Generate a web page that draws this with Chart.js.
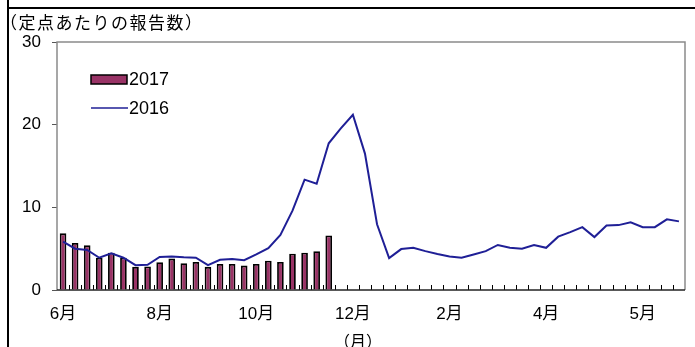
<!DOCTYPE html>
<html>
<head>
<meta charset="utf-8">
<title>定点あたりの報告数</title>
<script src="https://cdn.jsdelivr.net/npm/chart.js"></script>
<style>
  html, body { margin: 0; padding: 0; background: #fff; }
  #wrap { position: relative; width: 695px; height: 347px; overflow: hidden; }
  #wrap canvas { position: absolute; left: 0; top: 0; }
  .rule-v { position: absolute; left: 7px; top: 0; width: 2px; height: 347px; background: #000; }
  .rule-h { position: absolute; left: 7px; top: 7px; width: 688px; height: 2px; background: #000; }
</style>
</head>
<body>
<div id="wrap">
  <canvas id="chart" width="695" height="347"></canvas>
  <div class="rule-v"></div>
  <div class="rule-h"></div>
</div>
<script>
// month tick labels, one every 8 weeks
const monthLabels = ['6月', '8月', '10月', '12月', '2月', '4月', '5月'];
const weekCount = 52;
const yTicks = [0, 10, 20, 30];

// 2017 (bars) – weekly reports per sentinel site
const values2017 = [6.85, 5.7, 5.4, 3.9, 4.5, 3.9, 2.8, 2.85, 3.35, 3.8, 3.25, 3.4,
  2.8, 3.15, 3.15, 2.95, 3.15, 3.55, 3.4, 4.4, 4.5, 4.7, 6.6];

// 2016 (line)
const values2016 = [5.85, 5.0, 4.85, 3.9, 4.45, 3.9, 3.0, 3.05, 4.0, 4.05, 3.95, 3.9,
  3.0, 3.65, 3.75, 3.6, 4.3, 5.05, 6.65, 9.6, 13.35, 12.85, 17.75, 19.55,
  21.2, 16.5, 7.95, 3.85, 4.95, 5.1, 4.7, 4.35, 4.05, 3.9, 4.3, 4.7,
  5.45, 5.1, 5.0, 5.45, 5.1, 6.45, 7.0, 7.6, 6.4, 7.8, 7.85, 8.2,
  7.6, 7.6, 8.55, 8.3];

const categories = Array.from({ length: weekCount }, (_, i) => i % 8 === 0 ? monthLabels[i / 8] : '');

const numFont = '"Liberation Sans", Arial, "Noto Sans CJK JP", sans-serif';
const jpFont = '"Noto Sans CJK JP", sans-serif';

const framePlugin = {
  id: 'frame',
  beforeDatasetsDraw(chart) {
    const { ctx, chartArea: a, scales: { x } } = chart;
    ctx.save();
    // plot border
    ctx.strokeStyle = '#8a8a8a';
    ctx.lineWidth = 1.5;
    ctx.beginPath();
    ctx.moveTo(a.left, a.bottom);
    ctx.lineTo(a.left, a.top);
    ctx.lineTo(a.right, a.top);
    ctx.lineTo(a.right, a.bottom);
    ctx.stroke();
    // inward week ticks
    ctx.strokeStyle = '#000';
    ctx.lineWidth = 1;
    ctx.beginPath();
    for (let i = 1; i < weekCount; i++) {
      const px = Math.round(x.getPixelForValue(i - 0.5)) + 0.5;
      ctx.moveTo(px, a.bottom);
      ctx.lineTo(px, a.bottom - 5);
    }
    ctx.stroke();
    // bottom axis
    ctx.strokeStyle = '#222';
    ctx.lineWidth = 1.5;
    ctx.beginPath();
    ctx.moveTo(a.left, a.bottom);
    ctx.lineTo(a.right, a.bottom);
    ctx.stroke();
    ctx.restore();
  },
  afterDraw(chart) {
    const { ctx } = chart;
    const [bars, line] = chart.data.datasets;
    ctx.save();
    // axis title
    ctx.fillStyle = '#000';
    ctx.font = '17px ' + jpFont;
    ctx.textBaseline = 'middle';
    ctx.letterSpacing = '1.5px';
    ctx.fillText('（定点あたりの報告数）', 0, 23);
    ctx.letterSpacing = '0px';
    // legend
    ctx.fillStyle = bars.backgroundColor;
    ctx.fillRect(91, 75, 36, 9);
    ctx.strokeStyle = '#000';
    ctx.lineWidth = 1.5;
    ctx.strokeRect(91, 75, 36, 9);
    ctx.strokeStyle = line.borderColor;
    ctx.lineWidth = 1.5;
    ctx.beginPath();
    ctx.moveTo(91, 108);
    ctx.lineTo(128, 108);
    ctx.stroke();
    ctx.fillStyle = '#000';
    ctx.font = '18px ' + numFont;
    ctx.fillText(bars.label, 129, 80);
    ctx.fillText(line.label, 129, 109);
    // x unit
    ctx.font = '16px ' + jpFont;
    ctx.textAlign = 'center';
    ctx.textBaseline = 'top';
    ctx.fillText('（月）', 358, 333);
    ctx.restore();
  }
};

new Chart(document.getElementById('chart'), {
  data: {
    labels: categories,
    datasets: [{
      type: 'bar',
      label: '2017',
      data: values2017,
      backgroundColor: '#993366',
      borderColor: '#000',
      borderWidth: 1.8,
      barPercentage: 0.55,
      categoryPercentage: 1,
      order: 2
    }, {
      type: 'line',
      label: '2016',
      data: values2016,
      borderColor: '#1f1f96',
      borderWidth: 2,
      pointRadius: 0,
      tension: 0,
      fill: false,
      order: 1
    }]
  },
  options: {
    responsive: false,
    animation: false,
    devicePixelRatio: 1,
    layout: { padding: { left: 10, right: 10, top: 42, bottom: 0 } },
    plugins: {
      legend: { display: false },
      tooltip: { enabled: false }
    },
    scales: {
      x: {
        offset: true,
        grid: { display: false },
        border: { display: false },
        ticks: {
          autoSkip: false,
          maxRotation: 0,
          padding: 6,
          color: '#000',
          font: { family: numFont, size: 17 }
        },
        afterFit: s => { s.height = 57; }
      },
      y: {
        min: 0,
        max: 30,
        afterBuildTicks: s => { s.ticks = yTicks.map(v => ({ value: v })); },
        grid: { drawOnChartArea: false, tickLength: 5, color: '#555' },
        border: { display: false },
        ticks: {
          padding: 11,
          color: '#000',
          font: { family: numFont, size: 17 }
        },
        afterFit: s => { s.width = 47; }
      }
    }
  },
  plugins: [framePlugin]
});
</script>
</body>
</html>
